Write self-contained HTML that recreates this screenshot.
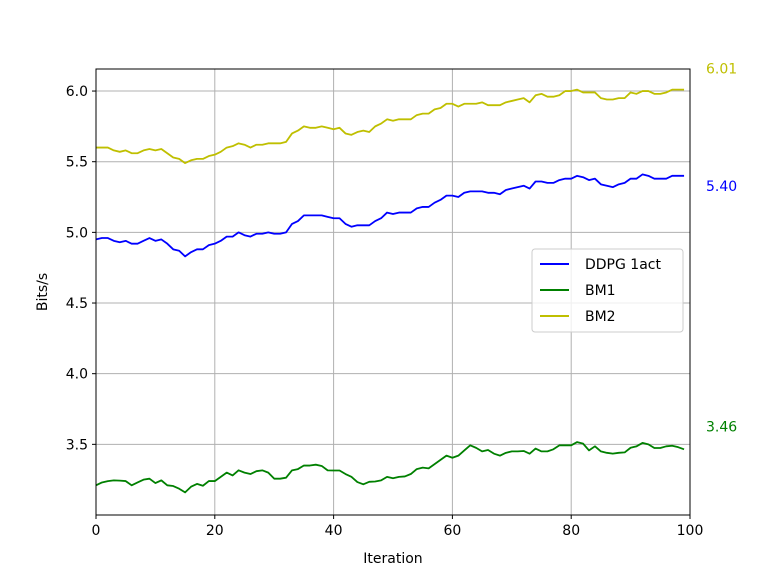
<!DOCTYPE html>
<html><head><meta charset="utf-8"><style>
body{margin:0;background:#fff;}
svg{display:block;font-family:"DejaVu Sans","Liberation Sans",sans-serif;}
</style></head><body>
<svg id="chart" width="768" height="576"></svg>
<script>
const xTicks=[0,20,40,60,80,100];
const yTicks=[3.5,4.0,4.5,5.0,5.5,6.0];
const ddpg=[4.95,4.96,4.96,4.94,4.93,4.94,4.92,4.92,4.94,4.96,4.94,4.95,4.92,4.88,4.87,4.83,4.86,4.88,4.88,4.91,4.92,4.94,4.97,4.97,5.00,4.98,4.97,4.99,4.99,5.00,4.99,4.99,5.00,5.06,5.08,5.12,5.12,5.12,5.12,5.11,5.10,5.10,5.06,5.04,5.05,5.05,5.05,5.08,5.10,5.14,5.13,5.14,5.14,5.14,5.17,5.18,5.18,5.21,5.23,5.26,5.26,5.25,5.28,5.29,5.29,5.29,5.28,5.28,5.27,5.30,5.31,5.32,5.33,5.31,5.36,5.36,5.35,5.35,5.37,5.38,5.38,5.40,5.39,5.37,5.38,5.34,5.33,5.32,5.34,5.35,5.38,5.38,5.41,5.40,5.38,5.38,5.38,5.40,5.40,5.40];
const bm1=[3.21,3.23,3.24,3.245,3.243,3.24,3.21,3.23,3.25,3.257,3.226,3.245,3.21,3.205,3.186,3.16,3.20,3.22,3.207,3.24,3.24,3.27,3.30,3.28,3.316,3.30,3.29,3.31,3.316,3.30,3.257,3.257,3.264,3.316,3.325,3.35,3.35,3.356,3.347,3.316,3.315,3.315,3.29,3.27,3.233,3.217,3.235,3.237,3.245,3.27,3.26,3.27,3.273,3.29,3.325,3.335,3.33,3.36,3.39,3.42,3.405,3.42,3.457,3.493,3.475,3.45,3.46,3.434,3.42,3.44,3.45,3.45,3.453,3.434,3.47,3.45,3.45,3.465,3.493,3.493,3.493,3.516,3.505,3.457,3.486,3.45,3.44,3.434,3.44,3.443,3.476,3.486,3.51,3.50,3.474,3.474,3.486,3.49,3.48,3.465];
const bm2=[5.60,5.60,5.60,5.58,5.57,5.58,5.56,5.56,5.58,5.59,5.58,5.59,5.56,5.53,5.52,5.49,5.51,5.52,5.52,5.54,5.55,5.57,5.60,5.61,5.63,5.62,5.60,5.62,5.62,5.63,5.63,5.63,5.64,5.70,5.72,5.75,5.74,5.74,5.75,5.74,5.73,5.74,5.70,5.69,5.71,5.72,5.71,5.75,5.77,5.80,5.79,5.80,5.80,5.80,5.83,5.84,5.84,5.87,5.88,5.91,5.91,5.89,5.91,5.91,5.91,5.92,5.90,5.90,5.90,5.92,5.93,5.94,5.95,5.92,5.97,5.98,5.96,5.96,5.97,6.00,6.00,6.01,5.99,5.99,5.99,5.95,5.94,5.94,5.95,5.95,5.99,5.98,6.00,6.00,5.98,5.98,5.99,6.01,6.01,6.01];
const seriesNames=["DDPG 1act","BM1","BM2"];
const seriesColors=["#0000ff","#008000","#bfbf00"];

const NS="http://www.w3.org/2000/svg";
const svg=document.getElementById('chart');
const L=96,R=690,T=69,B=515,Y0=3.0,Y1=6.156;
const sx=v=>L+(v-0)/(100-0)*(R-L);
const sy=v=>B-(v-Y0)/(Y1-Y0)*(B-T);
function mk(tag,attrs,parent){const e=document.createElementNS(NS,tag);for(const k in attrs)e.setAttribute(k,attrs[k]);(parent||svg).appendChild(e);return e;}

xTicks.forEach(t=>{
  const g=mk('line',{x1:sx(t),x2:sx(t),y1:T,y2:B,stroke:'#b0b0b0','stroke-width':1});
  
  
  mk('line',{x1:sx(t),x2:sx(t),y1:B,y2:B+4,stroke:'#000'});
  const tx=mk('text',{x:sx(t),y:B+20,'text-anchor':'middle','font-size':14});
  tx.textContent=t;
  
  
});
yTicks.forEach(t=>{
  const g=mk('line',{x1:L,x2:R,y1:sy(t),y2:sy(t),stroke:'#b0b0b0','stroke-width':1});
  
  
  mk('line',{x1:L-4,x2:L,y1:sy(t),y2:sy(t),stroke:'#000'});
  const tx=mk('text',{x:L-8,y:sy(t)+5,'text-anchor':'end','font-size':14});
  tx.textContent=t.toFixed(1);
  
  
});
[ddpg,bm1,bm2].forEach((arr,i)=>{
  const p=mk('polyline',{points:arr.map((v,j)=>sx(j)+','+sy(v)).join(' '),fill:'none',stroke:seriesColors[i],'stroke-width':1.8,'stroke-linejoin':'round'});
  
  
});
const frame=mk('rect',{x:L,y:T,width:R-L,height:B-T,fill:'none',stroke:'#000','stroke-width':1});



[[bm2,seriesColors[2],-21],[ddpg,seriesColors[0],10],[bm1,seriesColors[1],-23]].forEach(([arr,col,off])=>{
  const v=arr[arr.length-1];
  const tx=mk('text',{x:706,y:sy(v)+5+off,'font-size':14,fill:col});
  tx.textContent=v.toFixed(2);
  
  
});

const xl=mk('text',{x:(L+R)/2,y:563,'text-anchor':'middle','font-size':14});
xl.textContent='Iteration';


const yl=mk('text',{x:0,y:0,'text-anchor':'middle','font-size':14,transform:'translate(47,'+((T+B)/2)+') rotate(-90)'});
yl.textContent='Bits/s';



const lg=mk('g',{});


mk('rect',{x:532,y:249,width:151,height:83,rx:3,fill:'#fff','fill-opacity':0.8,stroke:'#cccccc'},lg);
seriesNames.forEach((n,i)=>{
  const y=264+i*26;
  const ln=mk('line',{x1:540,x2:569,y1:y,y2:y,stroke:seriesColors[i],'stroke-width':2},lg);
  
  
  const t=mk('text',{x:585,y:y+5,'font-size':14},lg);
  t.textContent=n;
  
  
});
</script>
</body></html>
